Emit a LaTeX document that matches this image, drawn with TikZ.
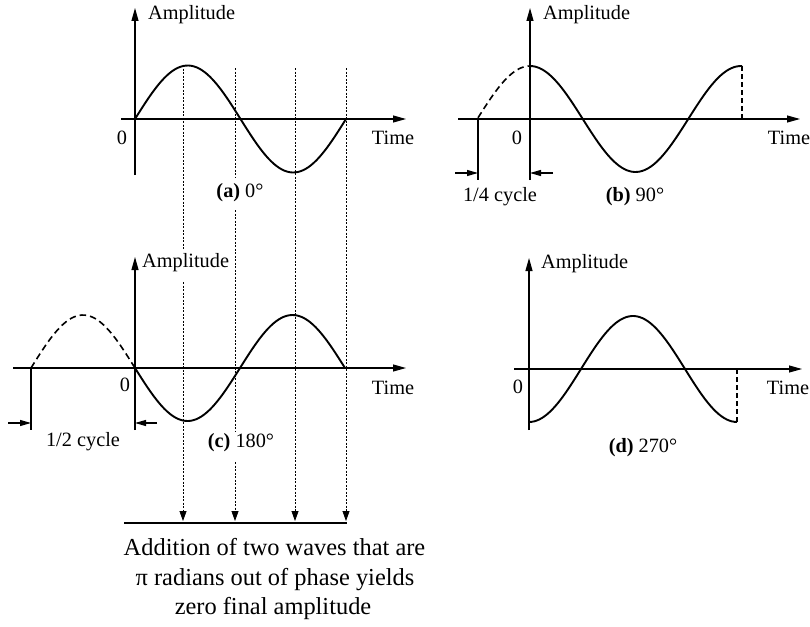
\documentclass[tikz,border=0pt]{standalone}
\usepackage{fontspec}
\setmainfont{Liberation Serif}
\usetikzlibrary{arrows.meta}
\tikzset{
  axis/.style={line width=1.1pt,-{Triangle[length=13pt,width=7pt]}},
  wave/.style={line width=1.9pt},
  dwave/.style={line width=1.6pt,dash pattern=on 6.5pt off 4pt},
  guide/.style={line width=0.8pt,dash pattern=on 2pt off 1.5pt},
  guidearr/.style={guide,-{Triangle[length=10pt,width=7pt]}},
  marker/.style={line width=1.1pt},
  dimarr/.style={line width=1.1pt,-{Triangle[length=11pt,width=6pt]}},
  lbl/.style={inner sep=0pt,font=\fontsize{20.3}{24}\selectfont},
  big/.style={inner sep=0pt,anchor=base,font=\fontsize{24.4}{29}\selectfont},
}
\begin{document}
\begin{tikzpicture}[x=1pt,y=-1pt]
\useasboundingbox (0,0) rectangle (810,626);
% ---------- panel (a)
\draw[axis] (135,175) -- (135,8);
\draw[axis] (121,119) -- (406,119);
\draw[wave] plot[domain=135:346,samples=80,smooth] (\x,{119-53.5*sin((\x-135)/211*360)});
\node[lbl,anchor=west] (aamp) at (148,15) {Amplitude};
\node[lbl] (azero) at (122,138) {0};
\node[lbl] (atime) at (393,138) {Time};
\node[lbl] (acap) at (240,193) {\textbf{(a)} 0°};
% ---------- panel (b)
\draw[axis] (530,180) -- (530,8);
\draw[axis] (458,119) -- (800,119);
\draw[dwave] plot[domain=478:530,samples=30,smooth] (\x,{119-53*cos((\x-530)/211*360)});
\draw[wave] plot[domain=530:742,samples=80,smooth] (\x,{119-53*cos((\x-530)/211*360)});
\draw[dwave,line width=1.2pt,dash pattern=on 5pt off 3pt] (742,66) -- (742,119);
\draw[marker] (478,119) -- (478,180);
\draw[dimarr] (455,173) -- (478,173);
\draw[dimarr] (553,173) -- (530,173);
\node[lbl,anchor=west] (bamp) at (543,15) {Amplitude};
\node[lbl] (bzero) at (517,138) {0};
\node[lbl] (btime) at (789,138) {Time};
\node[lbl] (bcyc) at (500,197) {1/4 cycle};
\node[lbl] (bcap) at (635,197) {\textbf{(b)} 90°};
% ---------- panel (c)
\draw[axis] (135,430) -- (135,257);
\draw[axis] (13,368) -- (406,368);
\draw[dwave] plot[domain=31:135,samples=40,smooth] (\x,{368+53*sin((\x-135)/208*360)});
\draw[wave] plot[domain=135:345,samples=80,smooth] (\x,{368+53*sin((\x-135)/210*360)});
\draw[marker] (31,368) -- (31,430);
\draw[dimarr] (8,423) -- (31,423);
\draw[dimarr] (157,423) -- (135,423);
\node[lbl,anchor=west] (camp) at (142,263) {Amplitude};
\node[lbl] (czero) at (125,385) {0};
\node[lbl] (ctime) at (393,388) {Time};
\node[lbl] (ccyc) at (83,442) {1/2 cycle};
\node[lbl] (ccap) at (241,443) {\textbf{(c)} 180°};
% ---------- panel (d)
\draw[axis] (529,430) -- (529,258);
\draw[axis] (514,369) -- (802,369);
\draw[wave] plot[domain=529:737,samples=80,smooth] (\x,{369+53*cos((\x-529)/208*360)});
\draw[dwave,line width=1.2pt,dash pattern=on 5pt off 3pt] (737,422) -- (737,369);
\node[lbl,anchor=west] (damp) at (541,264) {Amplitude};
\node[lbl] (dzero) at (518,387) {0};
\node[lbl] (dtime) at (788,388) {Time};
\node[lbl] (dcap) at (643,448) {\textbf{(d)} 270°};
% ---------- guide lines and sum
\draw[guide] (183,65) -- (183,250);
\draw[guidearr] (183,282) -- (183,521);
\draw[guide] (235,68) -- (235,177);
\draw[guide] (235,210) -- (235,432);
\draw[guidearr] (235,462) -- (235,521);
\draw[guidearr] (295,68) -- (295,521);
\draw[guidearr] (346,68) -- (346,521);
\draw[line width=1.8pt] (124,523) -- (347,523);
\node[big] (sum1) at (274.5,555) {Addition of two waves that are};
\node[big] (sum2) at (275,585) {π radians out of phase yields};
\node[big] (sum3) at (273,614) {zero final amplitude};
\end{tikzpicture}
\end{document}
